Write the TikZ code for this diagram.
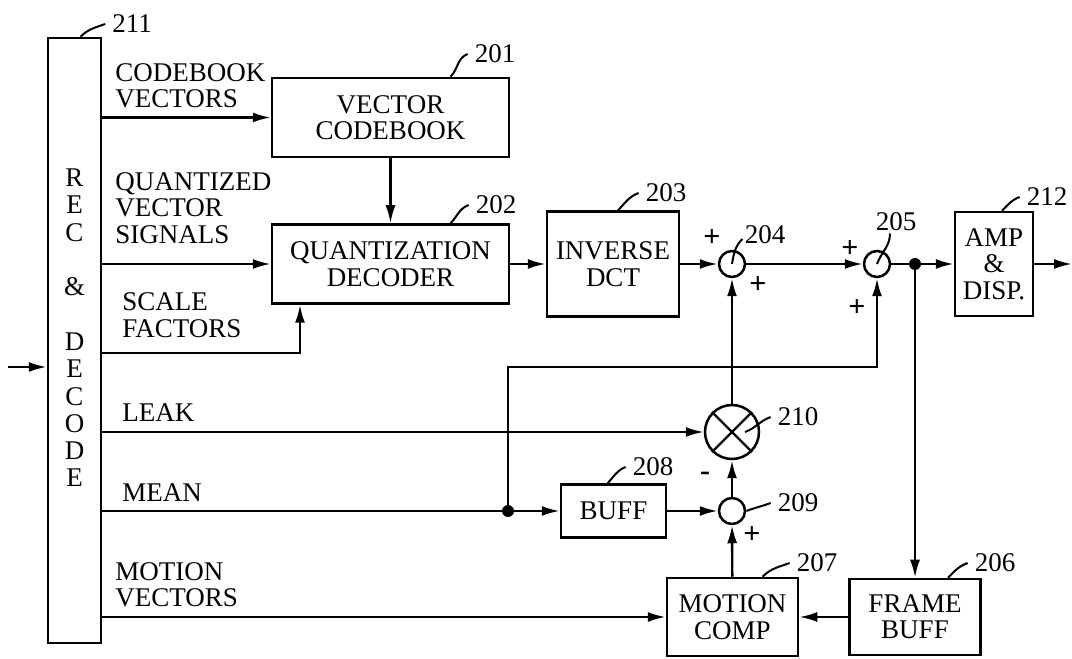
\documentclass[tikz,border=0pt]{standalone}
\usepackage{fontspec}
\setmainfont{Liberation Serif}
\usetikzlibrary{arrows.meta}

\begin{document}
\begin{tikzpicture}[x=0.5pt,y=0.5pt,
    every node/.style={font=\fontsize{13.5}{13.2}\selectfont},
    box/.style={draw,line width=1.25pt,align=center,inner sep=0pt},
    sig/.style={line width=1.2pt,-{Latex[length=9pt,width=5pt]}},
    wire/.style={line width=1.2pt},
    lead/.style={line width=1pt},
    sum/.style={draw,circle,line width=1.25pt,minimum size=13pt,inner sep=0pt},
    jdot/.style={fill,circle,minimum size=6pt,inner sep=0pt},
    pm/.style={font=\bfseries\fontsize{15}{15}\selectfont,inner sep=0pt}]
    \useasboundingbox (0,0) rectangle (1072,659);
    % blocks
    \node [box,minimum width=26.5pt,minimum height=302.5pt] (rec) at (74.5,318.5) {};
    \node [align=center,inner sep=0pt,font=\fontsize{13.5}{13.65}\selectfont] (rectxt) at (74.5,331) {R\\E\\C\\[13.65pt]\&\\[13.65pt]D\\E\\C\\O\\D\\E};
    \node [box,minimum width=118.5pt,minimum height=39.5pt] (vcb) at (390.5,541.5) {VECTOR\\CODEBOOK};
    \node [box,minimum width=118.5pt,minimum height=39.5pt] (qdec) at (390.5,395) {QUANTIZATION\\DECODER};
    \node [box,minimum width=66pt,minimum height=52.5pt] (idct) at (613,395) {INVERSE\\DCT};
    \node [box,minimum width=39pt,minimum height=52pt] (amp) at (994,395) {AMP\\\&\\DISP.};
    \node [box,minimum width=52.5pt,minimum height=26.5pt] (buff) at (613.5,148) {BUFF};
    \node [box,minimum width=65.5pt,minimum height=39pt] (mcomp) at (732.5,42) {MOTION\\COMP};
    \node [box,minimum width=65.5pt,minimum height=38pt] (fbuff) at (915,42) {FRAME\\BUFF};
    % summing points and junctions
    \node [sum] (s204) at (732,395) {};
    \node [sum] (s205) at (877,395) {};
    \node [sum,minimum size=27pt] (m210) at (732,227) {};
    \node [sum] (s209) at (732,148) {};
    \draw [wire] (m210.north east) -- (m210.south west) (m210.north west) -- (m210.south east);
    \node [jdot] (j1) at (915,395) {};
    \node [jdot] (j2) at (508,148) {};
    \coordinate (inp) at (8,292);
    \coordinate (outp) at (1072,395);
    \coordinate (scl) at (300,306);
    \coordinate (fbk) at (877,292);
    % signal names
    \node [anchor=west,align=left,inner sep=0pt] (tcbv) at (115,573) {CODEBOOK\\VECTORS};
    \node [anchor=west,align=left,inner sep=0pt] (tqvs) at (115,451) {QUANTIZED\\VECTOR\\SIGNALS};
    \node [anchor=west,align=left,inner sep=0pt] (tsf) at (122,344) {SCALE\\FACTORS};
    \node [anchor=west,inner sep=0pt] (tleak) at (122,246) {LEAK};
    \node [anchor=west,inner sep=0pt] (tmean) at (122,166) {MEAN};
    \node [anchor=west,align=left,inner sep=0pt] (tmv) at (115,74) {MOTION\\VECTORS};
    % reference numerals
    \node (l211) at (132,635) {211};
    \node (l201) at (495,605) {201};
    \node (l202) at (496,454) {202};
    \node (l203) at (666,466) {203};
    \node [inner sep=1pt] (l204) at (765,424) {204};
    \node [inner sep=1pt] (l205) at (896,437) {205};
    \node (l212) at (1047,462) {212};
    \node (l210) at (798,242) {210};
    \node (l209) at (798,156) {209};
    \node (l208) at (653,192) {208};
    \node (l207) at (817,96) {207};
    \node (l206) at (995,96) {206};
    % signs
    \node [pm] (p204a) at (712,421) {+};
    \node [pm] (p204b) at (758,374) {+};
    \node [pm] (p205a) at (850,410) {+};
    \node [pm] (p205b) at (857,351) {+};
    \node [pm] (m210s) at (705,183) {-};
    \node [pm] (p209) at (752,124) {+};
    % connections
    \draw [sig] (inp) -- (inp -| rec.west);
    \draw [sig] (vcb.west -| rec.east) -- (vcb.west);
    \draw [sig] (qdec.west -| rec.east) -- (qdec.west);
    \draw [sig] (scl -| rec.east) -- (scl) -- (scl |- qdec.south);
    \draw [sig] (vcb) -- (qdec);
    \draw [sig] (qdec) -- (idct);
    \draw [sig] (idct) -- (s204);
    \draw [sig] (s204) -- (s205);
    \draw [wire] (s205) -- (j1);
    \draw [sig] (j1) -- (amp);
    \draw [sig] (amp.east) -- (outp);
    \draw [sig] (j1) -- (j1 |- fbuff.north);
    \draw [sig] (fbuff) -- (mcomp);
    \draw [sig] (mcomp.west -| rec.east) -- (mcomp.west);
    \draw [sig] (mcomp) -- (s209);
    \draw [sig] (s209) -- (m210);
    \draw [sig] (m210) -- (s204);
    \draw [sig] (m210.west -| rec.east) -- (m210.west);
    \draw [wire] (j2 -| rec.east) -- (j2);
    \draw [sig] (j2) -- (buff);
    \draw [sig] (buff) -- (s209);
    \draw [sig] (j2) |- (fbk) -- (s205);
    % leaders
    \draw [lead] ([xshift=3pt]rec.north) to [out=45,in=200] (l211.west);
    \draw [lead] ([xshift=30pt]vcb.north) to [out=45,in=200] (l201.west);
    \draw [lead] ([xshift=30pt]qdec.north) to [out=45,in=200] (l202.west);
    \draw [lead] ([xshift=2.5pt]idct.north) to [out=45,in=200] (l203.west);
    \draw [lead] ([xshift=4pt]amp.north) to [out=45,in=200] (l212.west);
    \draw [lead] ([xshift=-3pt]buff.north) to [out=45,in=200] (l208.west);
    \draw [lead] ([xshift=15pt]mcomp.north) to [out=45,in=200] (l207.west);
    \draw [lead] ([xshift=16.5pt]fbuff.north) to [out=45,in=200] (l206.west);
    \draw [lead] ([xshift=6.5pt]m210.center) to [out=20,in=200] (l210.west);
    \draw [lead] (s209.east) to [out=20,in=200] (l209.west);
    \draw [lead] (s204.center) to [out=80,in=225] ([yshift=-2pt]l204.west);
    \draw [lead] (s205.center) to [out=70,in=-90] ([xshift=-3pt]l205.south);
\end{tikzpicture}
\end{document}
